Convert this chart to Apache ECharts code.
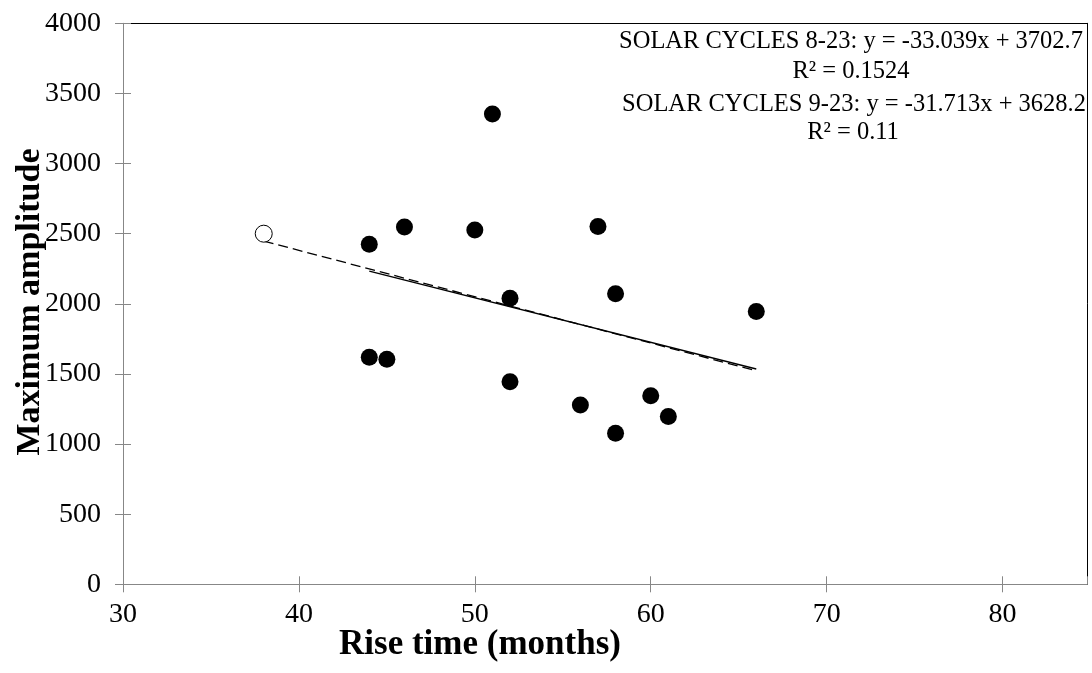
<!DOCTYPE html>
<html>
<head>
<meta charset="utf-8">
<script src="https://cdn.jsdelivr.net/npm/echarts@6/dist/echarts.min.js"></script>
<style>
html,body{margin:0;padding:0;background:#fff;}
#chart{width:1092px;height:673px;}
</style>
</head>
<body>
<div id="chart"></div>
<script>
// Solar cycle 8 (open marker)
var cycle8X = [38];
var cycle8Y = [2500];
// Solar cycles 9-23 (filled markers)
var cyclesX = [44, 44, 45, 46, 50, 51, 52, 52, 56, 57, 58, 58, 60, 61, 66];
var cyclesY = [2425, 1619, 1605, 2547, 2527, 3353, 2040, 1445, 1279, 2551, 2071, 1077, 1345, 1196, 1945];
// Trend line endpoints (from the printed equations)
var trend8to23X = [38, 66];
var trend8to23Y = [2447.2, 1522.1];
var trend9to23X = [44, 66];
var trend9to23Y = [2232.8, 1535.1];
// Text
var eqLines = [
  'SOLAR CYCLES 8-23: y = -33.039x + 3702.7',
  'R\u00B2 = 0.1524',
  'SOLAR CYCLES 9-23: y = -31.713x + 3628.2',
  'R\u00B2 = 0.11'
];
var xTitle = 'Rise time (months)';
var yTitle = 'Maximum amplitude';

function zip(a, b) { return a.map(function (v, i) { return [v, b[i]]; }); }

var FONT = "'Liberation Serif', 'Times New Roman', serif";
var GREY = '#878787';
var XMIN = 30, XMAX = 84.8, YMIN = 0, YMAX = 4000;
var plain = function (v) { return String(v); };

var chart = echarts.init(document.getElementById('chart'));
var blank = { show: false };
chart.setOption({
  animation: false,
  backgroundColor: '#fff',
  grid: { left: 123, top: 23.3, right: 5, bottom: 88.7 },
  xAxis: [
    { type: 'value', position: 'bottom', min: XMIN, max: XMAX, interval: 10,
      axisLine: { show: true, onZero: false, lineStyle: { color: GREY, width: 1 } },
      axisTick: { show: true, inside: false, length: 8, lineStyle: { color: GREY } },
      axisLabel: { show: true, fontFamily: FONT, fontSize: 28, color: '#000', margin: 16, showMaxLabel: false, formatter: plain },
      splitLine: blank },
    { type: 'value', position: 'bottom', min: XMIN, max: XMAX, interval: 10,
      axisLine: { show: false, onZero: false },
      axisTick: { show: true, inside: true, length: 8, lineStyle: { color: GREY } },
      axisLabel: blank, splitLine: blank },
    { type: 'value', position: 'top', min: XMIN, max: XMAX, interval: 10,
      axisLine: { show: true, onZero: false, lineStyle: { color: '#000', width: 1 } },
      axisTick: blank, axisLabel: blank, splitLine: blank }
  ],
  yAxis: [
    { type: 'value', position: 'left', min: YMIN, max: YMAX, interval: 500,
      axisLine: { show: true, onZero: false, lineStyle: { color: GREY, width: 1 } },
      axisTick: { show: true, inside: false, length: 8, lineStyle: { color: GREY } },
      axisLabel: { show: true, fontFamily: FONT, fontSize: 28, color: '#000', margin: 22, formatter: plain },
      splitLine: blank },
    { type: 'value', position: 'left', min: YMIN, max: YMAX, interval: 500,
      axisLine: { show: false, onZero: false },
      axisTick: { show: true, inside: true, length: 8, lineStyle: { color: GREY } },
      axisLabel: blank, splitLine: blank },
    { type: 'value', position: 'right', min: YMIN, max: YMAX, interval: 500,
      axisLine: { show: true, onZero: false, lineStyle: { color: '#000', width: 1 } },
      axisTick: blank, axisLabel: blank, splitLine: blank }
  ],
  series: [
    { type: 'line', name: 'trend 8-23', data: zip(trend8to23X, trend8to23Y),
      symbol: 'none', silent: true, z: 3,
      lineStyle: { color: '#000', width: 1.3, type: [10, 5] } },
    { type: 'line', name: 'trend 9-23', data: zip(trend9to23X, trend9to23Y),
      symbol: 'none', silent: true, z: 3,
      lineStyle: { color: '#000', width: 1.3, type: 'solid' } },
    { type: 'scatter', name: 'Cycle 8', data: zip(cycle8X, cycle8Y),
      symbol: 'circle', symbolSize: 17, z: 4,
      itemStyle: { color: '#fff', borderColor: '#000', borderWidth: 1, opacity: 1 } },
    { type: 'scatter', name: 'Cycles 9-23', data: zip(cyclesX, cyclesY),
      symbol: 'circle', symbolSize: 17, z: 4,
      itemStyle: { color: '#000', opacity: 1 } }
  ],
  graphic: [
    { type: 'text', x: 851, y: 42, style: { text: eqLines[0], font: "24.5px " + FONT, fill: '#000', textAlign: 'center', textVerticalAlign: 'middle' } },
    { type: 'text', x: 851, y: 72, style: { text: eqLines[1], font: "24.5px " + FONT, fill: '#000', textAlign: 'center', textVerticalAlign: 'middle' } },
    { type: 'text', x: 854, y: 105, style: { text: eqLines[2], font: "24.5px " + FONT, fill: '#000', textAlign: 'center', textVerticalAlign: 'middle' } },
    { type: 'text', x: 853, y: 133, style: { text: eqLines[3], font: "24.5px " + FONT, fill: '#000', textAlign: 'center', textVerticalAlign: 'middle' } },
    { type: 'text', x: 480, y: 645, style: { text: xTitle, font: "bold 35px " + FONT, fill: '#000', textAlign: 'center', textVerticalAlign: 'middle' } },
    { type: 'text', x: 30, y: 302, rotation: Math.PI / 2, style: { text: yTitle, font: "bold 34px " + FONT, fill: '#000', textAlign: 'center', textVerticalAlign: 'middle' } }
  ]
});
</script>
</body>
</html>
